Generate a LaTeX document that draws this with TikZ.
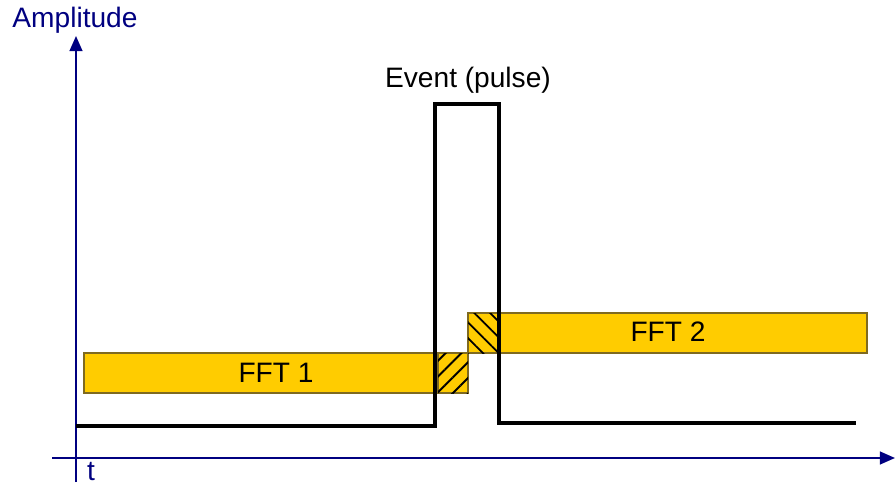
\documentclass[tikz,border=0pt]{standalone}
\usepackage{fontspec}
\setmainfont{Liberation Sans}
\usetikzlibrary{arrows.meta,patterns.meta}

\definecolor{axisblue}{HTML}{000080}
\definecolor{fftgold}{HTML}{FFCC00}
\definecolor{fftedge}{HTML}{7F6A20}

\tikzset{
	axis/.style={draw=axisblue,line width=1.7pt,-{Triangle[length=13pt,width=11pt]}},
	signal/.style={draw=black,line width=4pt},
	fftbox/.style={draw=fftedge,fill=fftgold,line width=1pt},
	overlapne/.style={fftbox,postaction={pattern={Lines[angle=45,distance=9.5pt,line width=1.6pt]}}},
	overlapnw/.style={fftbox,postaction={pattern={Lines[angle=-45,distance=9.5pt,line width=1.6pt]}}},
	label/.style={font=\fontsize{24}{28}\selectfont,inner sep=0pt}
}

\begin{document}
\begin{tikzpicture}[x=0.03cm,y=-0.03cm]
	\useasboundingbox (0,0) rectangle (896,484);

	% axes
	\draw[axis] (52,458) -- (895,458);
	\draw[axis] (76,482) -- (76,36);
	\node[label,text=axisblue] (amp) at (75,20) {Amplitude};
	\node[label,text=axisblue,anchor=base] (t) at (91,480) {t};

	% FFT windows
	\draw[fftbox] (84,353) rectangle (468,393);
	\draw[fftbox] (468,313) rectangle (867,353);
	\node[label] (fft1) at (276,373) {FFT 1};
	\node[label] (fft2) at (668,332) {FFT 2};

	% overlap with the event
	\draw[overlapne] (438,353) rectangle (468,393);
	\draw[overlapnw] (468,313) rectangle (498,353);

	% event (pulse)
	\draw[signal] (76,426) -- (435,426) -- (435,104) -- (499,104) -- (499,423) -- (856,423);
	\node[label] (event) at (468,80) {Event (pulse)};
\end{tikzpicture}
\end{document}
